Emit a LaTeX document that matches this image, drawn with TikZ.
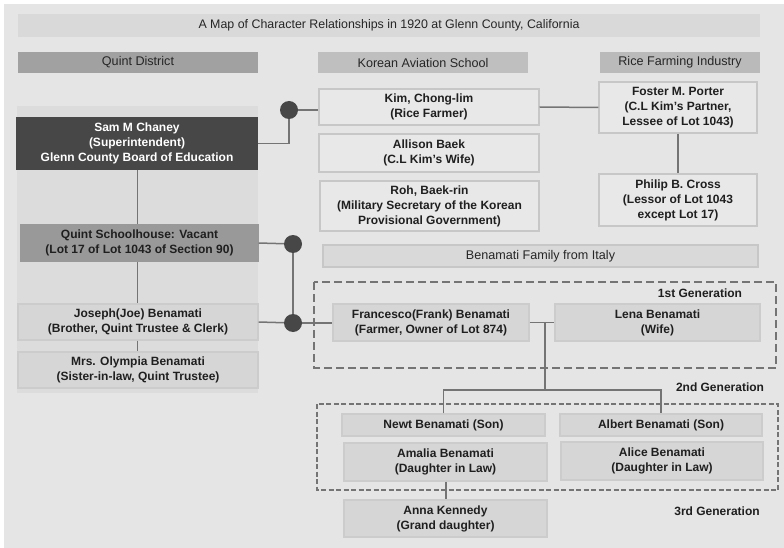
\documentclass[tikz,border=0pt]{standalone}
\usepackage{fontspec}
\setmainfont{Liberation Sans}
\usepackage[dvipsnames]{xcolor}
\usetikzlibrary{shapes.geometric, arrows, shapes}
\definecolor{bggray}{HTML}{E5E5E5}
\definecolor{panelgray}{HTML}{DCDCDC}
\definecolor{linegray}{HTML}{747474}
\tikzstyle{title} = [rectangle, minimum width=742pt, minimum height=23pt, text centered, fill=black!15, font=\fontsize{12.4}{15}\selectfont, text=black!85]
\tikzstyle{header} = [rectangle, minimum height=21pt, text centered, font=\fontsize{12.6}{15}\selectfont, text=black!85]
\tikzstyle{person} = [rectangle, inner sep=0pt, align=center, draw=black!22, line width=1.2pt, fill=black!9, font=\bfseries\fontsize{12}{15}\selectfont, text=black!88]
\tikzstyle{member} = [rectangle, inner sep=0pt, align=center, draw=black!20, line width=1.2pt, fill=black!16, font=\bfseries\fontsize{12}{15}\selectfont, text=black!88]
\tikzstyle{gen} = [font=\bfseries\fontsize{12}{15}\selectfont, text=black!88]
\tikzstyle{dot} = [circle, fill=black!72, minimum size=18pt, inner sep=0pt]
\tikzstyle{line} = [draw=linegray, line width=1.5pt]
\tikzstyle{genbox} = [draw=linegray, line width=1.8pt]

\begin{document}
\begin{tikzpicture}[x=1pt, y=1pt, yscale=-1]

\useasboundingbox (0, 0) rectangle (784, 548);
\fill[white] (0, 0) rectangle (784, 548);
\fill[bggray] (4, 4) rectangle (784, 548);
\fill[panelgray] (17, 106) rectangle (258, 393);

\node at (389, 25.5) (map) [title] {A Map of Character Relationships in 1920 at Glenn County, California};

\node at (138, 62.5) (quint) [header, minimum width=240pt, fill=black!37] {Quint District};
\node at (423, 62.5) (korean) [header, minimum width=210pt, fill=black!25] {Korean Aviation School};
\node at (680, 62.5) (rice) [header, minimum width=160pt, fill=black!27] {Rice Farming Industry};

\node at (137, 143.5) (chaney) [member, minimum width=240pt, minimum height=51pt, fill=black!72, draw=black!72, text=white] {Sam M Chaney\\(Superintendent)\\Glenn County Board of Education};
\node at (139.5, 243) (school) [member, minimum width=237pt, minimum height=36pt, fill=black!40, draw=black!40] {Quint Schoolhouse: Vacant\\(Lot 17 of Lot 1043 of Section 90)};
\node at (138, 322) (joseph) [member, minimum width=240pt, minimum height=36pt] {Joseph(Joe) Benamati\\(Brother, Quint Trustee \& Clerk)};
\node at (138, 370) (olympia) [member, minimum width=240pt, minimum height=36pt] {Mrs. Olympia Benamati\\(Sister-in-law, Quint Trustee)};

\node at (429, 107) (kim) [person, minimum width=220pt, minimum height=36pt] {Kim, Chong-lim\\(Rice Farmer)};
\node at (429, 153) (allison) [person, minimum width=220pt, minimum height=38pt] {Allison Baek\\(C.L Kim's Wife)};
\node at (429.5, 206) (roh) [person, minimum width=219pt, minimum height=50pt] {Roh, Baek-rin\\(Military Secretary of the Korean\\Provisional Government)};

\node at (678, 107.5) (porter) [person, minimum width=158pt, minimum height=51pt] {Foster M. Porter\\(C.L Kim's Partner,\\Lessee of Lot 1043)};
\node at (678, 200) (cross) [person, minimum width=158pt, minimum height=52pt] {Philip B. Cross\\(Lessor of Lot 1043\\except Lot 17)};

\node at (540.5, 256) (family) [header, minimum width=435pt, minimum height=22pt, fill=black!15, draw=black!22, line width=1.2pt] {Benamati Family from Italy};

\draw [genbox, dash pattern=on 8pt off 4pt] (314, 282) rectangle (776, 368);
\draw [genbox, dash pattern=on 5pt off 2.5pt] (317, 404) rectangle (778, 490);

\node at (700, 293) (first) [gen] {1st Generation};
\node at (720, 387) (second) [gen] {2nd Generation};
\node at (717, 511) (third) [gen] {3rd Generation};

\node at (431, 322.5) (frank) [member, minimum width=196pt, minimum height=37pt] {Francesco(Frank) Benamati\\(Farmer, Owner of Lot 874)};
\node at (657.5, 322.5) (lena) [member, minimum width=205pt, minimum height=37pt] {Lena Benamati\\(Wife)};

\node at (443.5, 425) (newt) [member, minimum width=203pt, minimum height=22pt] {Newt Benamati (Son)};
\node at (661, 425) (albert) [member, minimum width=202pt, minimum height=22pt] {Albert Benamati (Son)};
\node at (445.5, 462) (amalia) [member, minimum width=203pt, minimum height=38pt] {Amalia Benamati\\(Daughter in Law)};
\node at (662, 461) (alice) [member, minimum width=202pt, minimum height=38pt] {Alice Benamati\\(Daughter in Law)};
\node at (445.5, 518.5) (anna) [member, minimum width=203pt, minimum height=37pt] {Anna Kennedy\\(Grand daughter)};

\coordinate (dot1) at (289, 110);
\coordinate (dot2) at (293, 244);
\coordinate (dot3) at (293, 323);
\coordinate (split) at (545, 322.5);
\coordinate (fork) at (545, 390);

\draw [line] (chaney.south -| 137.5, 0) -- (school.north -| 137.5, 0);
\draw [line] (school.south -| 137.5, 0) -- (joseph.north -| 137.5, 0);
\draw [line] (joseph.south -| 137.5, 0) -- (olympia.north -| 137.5, 0);
\draw [line] (chaney.east) -| (dot1);
\draw [line] (dot1) -- (dot1 -| kim.west);
\draw [line] (kim.east) -- (porter.west);
\draw [line] (porter) -- (cross);
\draw [line] (school.east) -- (dot2);
\draw [line] (dot2) -- (dot3);
\draw [line] (joseph.east) -- (dot3);
\draw [line] (dot3) -- (dot3 -| frank.west);
\draw [line] (frank.east) -- (lena.west);
\draw [line] (split) -- (fork);
\draw [line] (newt.north) |- (fork) -| (albert.north);
\draw [line] (amalia.south -| 446, 0) -- (anna.north -| 446, 0);

\node at (dot1) [dot] {};
\node at (dot2) [dot] {};
\node at (dot3) [dot] {};

\end{tikzpicture}
\end{document}
